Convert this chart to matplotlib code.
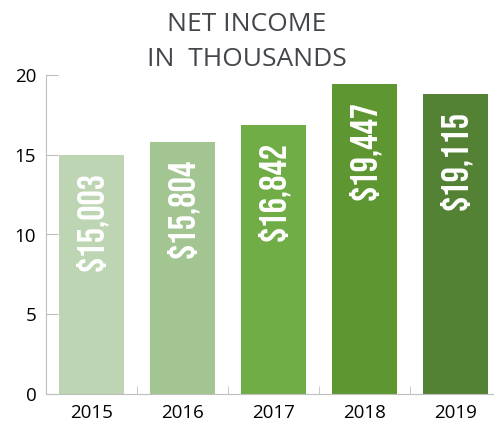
import matplotlib.pyplot as plt

years = ["2015", "2016", "2017", "2018", "2019"]
# bar heights as drawn in the reference (thousands)
heights = [15.0, 15.8, 16.85, 19.45, 18.8]
value_labels = ["$15,003", "$15,804", "$16,842", "$19,447", "$19,115"]
colors = ["#BDD5B2", "#A3C592", "#70AD47", "#5E9732", "#548235"]
y_ticks = [0, 5, 10, 15, 20]


def plot_net_income():
    fig = plt.figure(figsize=(4.94, 4.23), dpi=100)
    ax = fig.add_axes([46 / 494, 29 / 423, 455 / 494, 319 / 423])

    x = range(len(years))
    ax.bar(x, heights, width=0.72, color=colors, zorder=2)

    for i, (h, lab) in enumerate(zip(heights, value_labels)):
        ax.annotate(lab, (i, h), xytext=(0, -12), textcoords="offset points",
                    rotation=90, ha="center", va="top", color="white",
                    fontsize=27.5, family=["Bebas Neue", "DejaVu Sans"])

    ax.set_xlim(-0.5, len(years) - 0.5)
    ax.set_ylim(0, 20)
    ax.set_yticks(y_ticks)
    ax.set_yticklabels([str(t) for t in y_ticks], family="Open Sans", fontsize=13.5)

    ax.set_xticks(list(x))
    ax.set_xticklabels(years, family="Open Sans", fontsize=13.5)
    ax.set_xticks([i + 0.5 for i in range(len(years) - 1)], minor=True)
    ax.tick_params(axis="x", which="major", length=0, pad=7)
    ax.tick_params(axis="x", which="minor", direction="in", length=6, color="#BFBFBF")
    ax.tick_params(axis="y", direction="in", length=8.5, color="#BFBFBF", pad=7)

    for side in ["top", "right"]:
        ax.spines[side].set_visible(False)
    for side in ["left", "bottom"]:
        ax.spines[side].set_color("#BFBFBF")

    fig.text(0.5, 1 - 42 / 423, "NET INCOME\nIN  THOUSANDS", ha="center", va="center",
             family="Open Sans", fontsize=19, color="#43464B", linespacing=1.5)

    fig.savefig("out.png", dpi=100)
    plt.close(fig)


if __name__ == "__main__":
    plot_net_income()
